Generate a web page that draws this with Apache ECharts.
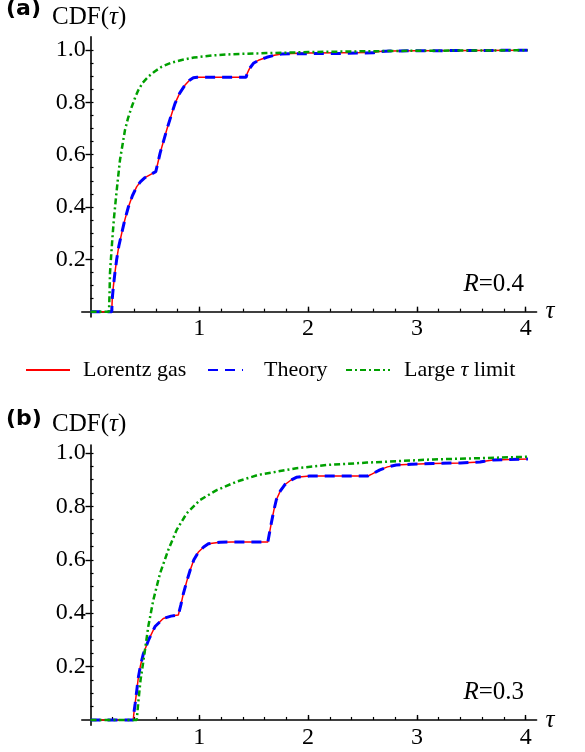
<!DOCTYPE html>
<html><head><meta charset="utf-8">
<script src="https://cdn.jsdelivr.net/npm/echarts@6/dist/echarts.min.js"></script>
<style>html,body{margin:0;padding:0;background:#fff}#c{width:585px;height:752px}</style>
</head><body><div id="c"></div>
<script>
// ---- Panel (a): R = 0.4 ----
const tauA = [0, 0.195, 0.2, 0.21, 0.225, 0.24, 0.26, 0.287, 0.315, 0.348, 0.385, 0.425, 0.46, 0.50, 0.55, 0.60, 0.62, 0.639, 0.67, 0.70, 0.74, 0.777, 0.82, 0.869, 0.91, 0.945, 0.98, 1.2, 1.43, 1.44, 1.46, 1.497, 1.55, 1.62, 1.69, 1.757, 1.85, 2.0, 2.3, 2.6, 2.65, 2.75, 3.0, 3.5, 4.02];
const lorentzA = [0, 0, 0.05, 0.096, 0.15, 0.198, 0.25, 0.30, 0.35, 0.40, 0.443, 0.478, 0.497, 0.512, 0.524, 0.535, 0.57, 0.605, 0.65, 0.694, 0.748, 0.796, 0.835, 0.866, 0.884, 0.894, 0.896, 0.896, 0.896, 0.91, 0.928, 0.949, 0.962, 0.972, 0.980, 0.985, 0.987, 0.988, 0.989, 0.990, 0.994, 0.996, 0.997, 0.998, 0.999];
const theoryA  = [0, 0, 0.05, 0.096, 0.15, 0.198, 0.25, 0.30, 0.35, 0.40, 0.443, 0.478, 0.497, 0.512, 0.524, 0.535, 0.57, 0.605, 0.65, 0.694, 0.748, 0.796, 0.835, 0.866, 0.884, 0.894, 0.896, 0.896, 0.896, 0.91, 0.928, 0.949, 0.962, 0.972, 0.980, 0.985, 0.986, 0.986, 0.987, 0.989, 0.994, 0.996, 0.997, 0.998, 0.999];
const tauLimA = [0, 0.17, 0.175, 0.179, 0.19, 0.2, 0.215, 0.232, 0.25, 0.271, 0.295, 0.317, 0.345, 0.379, 0.41, 0.44, 0.48, 0.531, 0.59, 0.654, 0.74, 0.838, 0.95, 1.114, 1.3, 1.62, 2.0, 2.5, 3.0, 3.5, 4.02];
const limitA = [0, 0, 0.07, 0.147, 0.215, 0.274, 0.355, 0.427, 0.50, 0.58, 0.64, 0.694, 0.74, 0.783, 0.818, 0.847, 0.875, 0.898, 0.918, 0.936, 0.951, 0.962, 0.971, 0.979, 0.984, 0.988, 0.992, 0.995, 0.997, 0.998, 0.999];

// ---- Panel (b): R = 0.3 ----
const tauB = [0, 0.393, 0.40, 0.41, 0.425, 0.44, 0.46, 0.485, 0.531, 0.593, 0.669, 0.74, 0.807, 0.83, 0.853, 0.885, 0.915, 0.95, 0.99, 1.04, 1.083, 1.19, 1.3, 1.63, 1.645, 1.662, 1.685, 1.708, 1.745, 1.785, 1.84, 1.892, 2.015, 2.3, 2.55, 2.59, 2.66, 2.73, 2.81, 2.95, 3.15, 3.4, 3.58, 3.62, 3.7, 3.85, 4.02];
const lorentzB = [0, 0, 0.03, 0.06, 0.11, 0.16, 0.205, 0.247, 0.297, 0.35, 0.38, 0.389, 0.393, 0.43, 0.472, 0.52, 0.56, 0.60, 0.628, 0.648, 0.66, 0.666, 0.667, 0.667, 0.70, 0.738, 0.785, 0.825, 0.858, 0.881, 0.898, 0.909, 0.914, 0.914, 0.914, 0.922, 0.937, 0.948, 0.955, 0.958, 0.961, 0.963, 0.966, 0.969, 0.974, 0.976, 0.978];
const theoryB  = [0, 0, 0.03, 0.06, 0.11, 0.16, 0.205, 0.247, 0.297, 0.35, 0.38, 0.389, 0.393, 0.43, 0.472, 0.52, 0.56, 0.60, 0.628, 0.648, 0.66, 0.666, 0.667, 0.667, 0.70, 0.738, 0.785, 0.825, 0.858, 0.881, 0.898, 0.909, 0.914, 0.914, 0.914, 0.922, 0.937, 0.948, 0.955, 0.958, 0.961, 0.963, 0.966, 0.969, 0.974, 0.976, 0.978];
const tauLimB = [0, 0.425, 0.44, 0.46, 0.492, 0.531, 0.577, 0.639, 0.715, 0.792, 0.884, 1.006, 1.16, 1.344, 1.542, 1.892, 2.168, 2.54, 3.15, 3.6, 4.02];
const limitB = [0, 0, 0.07, 0.15, 0.237, 0.35, 0.449, 0.549, 0.637, 0.712, 0.774, 0.824, 0.861, 0.893, 0.918, 0.943, 0.955, 0.964, 0.976, 0.981, 0.986];

// ---- Ticks / labels ----
const xLabels = [1, 2, 3, 4];
const xMinorTicks = [0.2,0.4,0.6,0.8,1,1.2,1.4,1.6,1.8,2,2.2,2.4,2.6,2.8,3,3.2,3.4,3.6,3.8,4];
const yLabels = [0.2, 0.4, 0.6, 0.8, 1.0];
const yMinorTicks = [0.05,0.1,0.15,0.2,0.25,0.3,0.35,0.4,0.45,0.5,0.55,0.6,0.65,0.7,0.75,0.8,0.85,0.9,0.95,1.0];
const seriesNames = ['Lorentz gas', 'Theory', 'Large τ limit'];
const panelLabels = ['(a)', '(b)'];
const radiusLabels = ['0.4', '0.3'];

const SERIF = '"Liberation Serif", "DejaVu Serif", serif';
const FS = 22;      // legend
const FT = 24;      // tick labels
const FB = 25;      // axis names / annotations

function pairs(xs, ys) { return xs.map((x, i) => [x, ys[i]]); }

const styles = [
  { color: '#ff0000', width: 1.5, type: 'solid' },
  { color: '#0000ff', width: 3, type: [10, 7] },
  { color: '#00a000', width: 2.5, type: [6, 3, 2, 3] }
];

function mkSeries(idx, axisIdx, data) {
  const s = styles[idx];
  return {
    name: seriesNames[idx], type: 'line', xAxisIndex: axisIdx, yAxisIndex: axisIdx,
    data: data, symbol: 'none', showSymbol: false, smooth: false,
    lineStyle: { color: s.color, width: s.width, type: s.type },
    itemStyle: { color: s.color }, z: 2 + idx, silent: true
  };
}

function xAxes(grid) {
  return [
    { type: 'value', gridIndex: grid, min: -0.08, max: 4.1, position: 'bottom',
      axisLine: { onZero: true, lineStyle: { color: '#000', width: 1.6 } },
      axisTick: { inside: true, length: 3, customValues: xMinorTicks, lineStyle: { color: '#000', width: 1.2 } },
      axisLabel: { customValues: xLabels, margin: 0, color: '#000', fontFamily: SERIF, fontSize: FT, formatter: v => String(v) },
      splitLine: { show: false },
      name: 'τ', nameLocation: 'end', nameGap: 9,
      nameTextStyle: { fontFamily: SERIF, fontSize: FB, fontStyle: 'italic', color: '#000', verticalAlign: 'middle' } },
    { type: 'value', gridIndex: grid, min: -0.08, max: 4.1, position: 'bottom',
      axisLine: { onZero: true, show: false },
      axisTick: { inside: true, length: 5, customValues: xLabels, lineStyle: { color: '#000', width: 1.4 } },
      axisLabel: { show: false }, splitLine: { show: false } }
  ];
}
function yAxes(grid, ymax) {
  return [
    { type: 'value', gridIndex: grid, min: -0.02, max: ymax, position: 'left',
      axisLine: { onZero: true, lineStyle: { color: '#000', width: 1.6 } },
      axisTick: { inside: true, length: 3, customValues: yMinorTicks, lineStyle: { color: '#000', width: 1.2 } },
      axisLabel: { customValues: yLabels, margin: -4, color: '#000', fontFamily: SERIF, fontSize: FT, formatter: v => v.toFixed(1) },
      splitLine: { show: false } },
    { type: 'value', gridIndex: grid, min: -0.02, max: ymax, position: 'left',
      axisLine: { onZero: true, show: false },
      axisTick: { inside: false, length: 5, customValues: yLabels, lineStyle: { color: '#000', width: 1.4 } },
      axisLabel: { show: false }, splitLine: { show: false } }
  ];
}

function mkLegend(idx, left, itemWidth, pad) {
  return {
    data: [seriesNames[idx]], left: left, top: 359, padding: 0,
    itemWidth: itemWidth, itemHeight: 14, selectedMode: false,
    itemStyle: { opacity: 0 },
    formatter: n => n === 'Large τ limit' ? 'Large {i|τ} limit' : n,
    textStyle: { fontFamily: SERIF, fontSize: FS, color: '#000', padding: [0, 0, 0, pad],
      rich: { i: { fontFamily: SERIF, fontSize: FS, fontStyle: 'italic', color: '#000' } } }
  };
}

function panelText(i, yLab, yCdf, yR) {
  return [
    { type: 'text', left: 6, top: yLab - 12, style: { text: panelLabels[i], font: 'bold 22px "DejaVu Sans", sans-serif', fill: '#000' } },
    { type: 'text', x: 52, y: yCdf, style: { text: 'CDF({i|τ})', fontFamily: SERIF, fontSize: FB, fill: '#000', verticalAlign: 'middle',
      rich: { i: { fontFamily: SERIF, fontSize: FB, fontStyle: 'italic', fill: '#000' } } } },
    { type: 'text', x: 524, y: yR, style: { text: '{i|R}=' + radiusLabels[i], fontFamily: SERIF, fontSize: FB, fill: '#000', align: 'right', verticalAlign: 'middle',
      rich: { i: { fontFamily: SERIF, fontSize: FB, fontStyle: 'italic', fill: '#000' } } } }
  ];
}

const chart = echarts.init(document.getElementById('c'), null, { renderer: 'canvas' });
chart.setOption({
  animation: false,
  backgroundColor: '#fff',
  grid: [
    { left: 81.8, right: 48.4, top: 36.9, bottom: 435.1 },
    { left: 81.8, right: 48.4, top: 445, bottom: 26.7 }
  ],
  xAxis: [].concat(xAxes(0), xAxes(1)),
  yAxis: [].concat(yAxes(0, 1.05), yAxes(1, 1.03)),
  legend: [ mkLegend(0, 25, 44, 8), mkLegend(1, 207, 35, 16), mkLegend(2, 345, 44, 9) ],
  graphic: [].concat(panelText(0, 10, 17, 284), panelText(1, 420, 424, 692)),
  series: [
    mkSeries(0, 0, pairs(tauA, lorentzA)),
    mkSeries(1, 0, pairs(tauA, theoryA)),
    mkSeries(2, 0, pairs(tauLimA, limitA)),
    mkSeries(0, 2, pairs(tauB, lorentzB)),
    mkSeries(1, 2, pairs(tauB, theoryB)),
    mkSeries(2, 2, pairs(tauLimB, limitB))
  ]
});
</script>
</body></html>
